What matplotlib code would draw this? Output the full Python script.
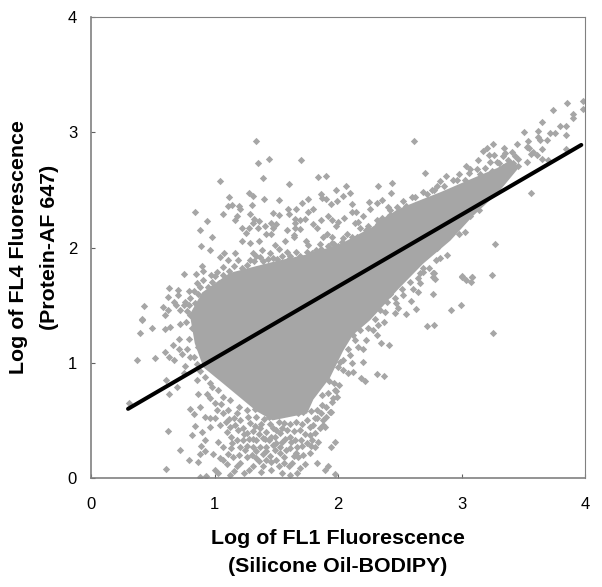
import matplotlib
matplotlib.use('Agg')
import matplotlib.pyplot as plt

# points (log FL1, log FL4)
upper_pts = [(1.34,2.92),(1.355,2.73),(1.44,2.77),(1.70,2.76),(1.39,2.60),(1.045,2.58),(1.60,2.55),(1.835,2.61),
    (1.90,2.62),(1.98,2.50),(1.28,2.47),(1.31,2.45),(1.12,2.44),(1.40,2.42),(1.30,2.37),(1.525,2.41),(1.71,2.39),
    (1.76,2.42),(1.865,2.46),(1.87,2.43),(1.90,2.42),(1.94,2.38),(1.99,2.40),(.845,2.31),(.94,2.23),(1.07,2.29),
    (1.11,2.36),(1.14,2.37),(1.20,2.36),(1.21,2.33),(1.18,2.27),(1.17,2.24),(1.29,2.29),(1.32,2.25),(1.31,2.21),
    (1.36,2.23),(1.405,2.19),(1.355,2.17),(1.28,2.17),(1.22,2.17),(1.255,2.13),(1.42,2.12),(1.46,2.21),(1.495,2.20),
    (1.47,2.17),(1.46,2.12),(1.47,2.30),(1.525,2.28),(1.595,2.33),(1.60,2.29),(1.66,2.33),(1.65,2.25),(1.65,2.21),
    (1.59,2.15),(1.65,2.17),(1.64,2.11),(1.69,2.24),(1.73,2.25),(1.69,2.16),(1.755,2.31),(1.80,2.33),(1.86,2.24),
    (1.80,2.20),(1.83,2.17),(1.92,2.27),(1.95,2.24),(2.00,2.22),(1.98,2.19),(1.91,2.12),(1.88,2.09),(1.95,2.09),
    (.88,2.15),(.98,2.09),(.89,2.01),(.965,1.98),(1.22,2.06),(1.29,2.04),(1.36,2.06),(1.57,2.06),(1.64,2.09),
    (1.74,2.06),(1.76,2.02),(1.855,2.03),(1.92,2.01),(2.0,2.01),(1.385,1.98),(1.49,2.02),(1.52,1.99),(1.585,1.96),
    (1.61,1.93),(1.75,1.96),(1.08,1.95),(1.045,1.92),(1.17,1.95),(1.11,1.89),(1.315,1.95),(1.29,1.89),(1.37,1.92),
    (1.45,1.95),(1.47,1.91),(1.395,1.88),(1.26,1.85),(1.19,1.89),(1.07,1.83),(.895,1.84),(.91,1.80),(.75,1.77),
    (.85,1.77),(.91,1.72),(.855,1.69),(1.0,1.75),(1.07,1.76),(.98,1.70),(1.04,1.69),(.63,1.65),(.705,1.63),(.79,1.62),
    (.95,1.66),(.705,1.59),(.62,1.57),(.67,1.53),(.80,1.56),(.43,1.49),(.58,1.48),(.625,1.46),(.60,1.41),(.41,1.38),
    (.72,1.46),(.76,1.53),(.80,1.41),(.855,1.46),(.92,1.57),(.96,1.54),(1.0,1.63),(1.34,1.93),(1.43,1.90),(1.55,1.93),
    (1.66,1.96),(1.82,1.98),(1.88,1.95),(1.95,2.04),(.83,1.62),(.87,1.60),(.75,1.50),(.78,1.45),(.69,1.50),
    (1.16,1.84),(1.22,1.82),(1.32,1.88),(1.51,1.90),(1.60,1.90),(1.69,1.93),(1.79,1.95),(1.86,1.99),(1.97,2.03),(2.03,2.05),
    (1.02,1.79),(.97,1.76),(1.12,1.80),(.88,1.66),(.84,1.52),(.79,1.50)]

left_pts = [(.41,1.37),(.40,1.26),(.49,1.30),(.60,1.29),(.64,1.31),(.72,1.34),(.77,1.35),(.71,1.21),(.79,1.21),
    (.66,1.15),(.71,1.12),(.60,1.09),(.63,1.05),(.735,1.08),(.80,1.05),(.87,1.14),(.37,1.02),(.52,1.04),(.67,1.02),
    (.76,.97),(.855,.99),(.75,.91),(.855,.85),(.61,.85),(.635,.73),(.70,.79),(.305,.65),(.87,.73),(.925,.88),(.96,.82),
    (.82,1.30),(.78,1.12),(.83,1.05),(.88,.93),(.98,.79),(1.03,.76)]

plume_pts = [(.94,.73),(.80,.60),(.835,.555),(.88,.62),(.96,.69),(1.0,.65),(1.07,.70),(1.125,.68),(.925,.53),(.965,.52),
    (1.02,.59),(1.07,.56),(.84,.45),(.96,.445),(.62,.41),(.82,.37),(.90,.40),(.925,.33),(.89,.28),(1.045,.46),(1.10,.40),
    (1.03,.315),(1.07,.27),(.72,.24),(.925,.23),(.885,.208),(.985,.21),(.79,.16),(.87,.135),(.61,.08),(.885,.01),(.93,.02),
    (1.0,.07),(1.03,.04),(1.07,.155),(1.11,.21),(1.045,.17),(1.10,.125),(1.15,.185),(1.18,.10),(1.125,.025),(1.235,.04),
    (1.26,.185),(1.25,.24),(1.315,.10),(1.34,.17),(1.42,.155),(1.395,.10),(1.46,.07),(1.545,.04),(1.61,.025),(1.665,.04),
    (1.625,.13),(1.56,.185),(1.68,.185),(1.72,.20),(1.775,.215),(1.895,.07),(1.92,.10),(1.975,.035),(1.83,.13),(1.94,.265),
    (1.975,.315),(1.88,.46),(1.815,.52),(1.935,.575),(1.975,.76),(1.855,.43),(1.775,.37),(1.61,.26),(1.50,.30),(1.42,.40),
    (1.34,.33),(1.26,.39),(1.18,.33),(1.125,.445),(1.21,.50),(1.29,.475),(1.37,.43),(1.18,.56),(1.26,.59),(1.34,.53),
    (1.45,.47),(1.53,.39),(1.61,.36),(1.69,.42),(1.75,.50),(1.68,.56),(1.585,.56),(1.61,.47),(1.815,.39),(1.75,.30),
    (1.665,.27),(1.37,.27),(1.42,.27),(1.49,.24),(1.42,.23),(1.50,.155),(1.315,.27),(1.14,.30),(1.21,.27),(1.16,.52),
    (1.23,.43),(1.31,.41),(1.40,.51),(1.48,.55),(1.56,.48),(1.66,.49),(1.72,.57),(1.78,.58),(1.83,.59),(1.87,.63),
    (1.39,.35),(1.46,.36),(1.55,.31),(1.58,.24),(1.70,.33),(1.73,.12),(1.52,.10),(1.45,.19),(1.38,.05),(1.28,.07),
    (1.21,.13),(1.16,.06),(1.31,.34),(1.23,.33),(1.11,.59),(1.05,.64),(1.00,.52),(1.12,.51),(1.33,.60),(1.41,.60),
    (1.50,.42),(1.64,.41),(1.80,.46),(1.90,.53),(1.95,.66),(1.99,.70),(1.92,.74),(1.47,.29),(1.53,.22),(1.34,.23),
    (1.20,.62),(1.27,.53),(1.38,.47),(1.44,.53),(1.52,.49),(1.59,.42),(1.71,.47),(1.77,.44),(1.86,.56),(1.90,.62),
    (1.26,.28),(1.19,.42),(1.13,.36),(1.36,.15),(1.44,.33),(1.56,.13),(1.64,.19),(1.69,.09),(1.78,.28),(1.84,.31),
    (1.09,.49),(1.17,.46),(1.24,.38),(1.33,.45),(1.41,.34),(1.49,.36),(1.57,.34),(1.65,.33),(1.73,.38),(1.79,.33),
    (1.28,.34),(1.36,.38),(1.47,.43),(1.55,.43),(1.62,.31),(1.71,.28),(1.81,.27),(1.46,.14),(1.39,.21),(1.30,.20),
    (1.20,.20),(1.13,.26),(1.53,.27),(1.60,.10),(1.66,.22)]

right_pts = [(3.98,3.27),(3.857,3.25),(3.98,3.20),(3.905,3.155),(3.905,3.126),(3.738,3.19),(3.65,3.09),(3.506,3.005),
    (3.62,3.01),(3.797,3.05),(3.846,3.05),(3.85,2.98),(3.757,2.996),(3.716,2.99),(3.695,2.93),(3.635,2.93),(3.62,2.96),
    (3.54,2.92),(3.527,2.875),(3.55,2.86),(3.576,2.83),(3.56,2.81),(3.61,2.80),(3.654,2.855),(3.649,2.765),(3.703,2.76),
    (3.527,2.74),(3.85,2.855),(2.618,2.924),(3.258,2.895),(3.452,2.895),(3.204,2.866),(3.171,2.84),(3.22,2.80),(3.263,2.805),
    (3.347,2.86),(3.352,2.817),(3.339,2.79),(3.406,2.83),(3.433,2.79),(3.46,2.77),(3.136,2.76),(3.23,2.74),(3.285,2.745),
    (3.379,2.76),(3.42,2.73),(3.46,2.707),(3.036,2.71),(3.069,2.68),(3.128,2.678),(2.704,2.65),(2.982,2.635),(3.19,2.687),
    (3.244,2.666),(3.339,2.695),(3.392,2.657),(2.874,2.623),(2.826,2.577),(2.934,2.585),(3.028,2.585),(2.799,2.536),
    (2.758,2.50),(2.321,2.536),(2.434,2.556),(2.065,2.53),(2.10,2.47),(2.043,2.45),(2.426,2.47),(2.596,2.44),(2.723,2.46),
    (2.69,2.397),(2.529,2.406),(2.359,2.41),(2.313,2.383),(2.254,2.392),(2.113,2.374),(2.259,2.334),(2.402,2.348),
    (2.42,2.325),(2.475,2.348),(2.11,2.305),(2.143,2.305),(2.205,2.273),(2.051,2.26),(2.353,2.26),(2.313,2.24),(2.407,2.267),
    (2.164,2.224),(2.137,2.21),(2.245,2.19),(2.178,2.166),(2.226,2.15),(2.326,2.204),(2.07,2.12),(2.11,2.09),(2.043,2.08),(2.15,2.09),
    (2.55,2.36),(2.62,2.44),(2.69,2.48),(2.78,2.50),(2.86,2.53),(2.96,2.59),(3.06,2.65),(3.15,2.64),(3.30,2.73),(3.37,2.72),
    (2.35,2.22),(2.42,2.28)]

lower_pts = [(3.563,2.476),(3.271,2.033),(3.247,1.758),(3.082,1.741),(3.007,1.747),(3.028,2.137),(2.982,2.117),(2.947,2.21),
    (3.015,2.24),(3.07,2.27),(3.144,2.325),(2.88,1.935),(2.826,1.91),(2.79,1.89),(2.80,2.0),(2.772,1.78),(2.69,1.82),
    (2.664,1.775),(2.785,1.73),(2.88,2.09),(2.893,2.15),(3.255,1.255),(3.006,1.753),(3.033,1.718),(3.077,1.70),(3.087,1.74),
    (2.77,1.594),(2.996,1.498),(2.915,1.46),(2.718,1.319),(2.78,1.328),(2.631,1.467),(2.55,1.42),(2.588,1.54),(2.461,1.43),
    (2.483,1.472),(2.348,1.169),(2.415,1.154),(2.315,1.24),(2.375,1.357),(2.326,1.328),(2.205,1.116),(2.2,1.01),(2.318,.905),
    (2.372,.885),(2.186,.865),(2.218,.845),(2.124,.923),(2.078,.908),(2.11,.995),(2.016,1.01),(2.043,.937),(1.94,.576),
    (1.962,.69),(1.983,.758),(2.01,.807),(1.967,.82),(1.88,.50),(1.894,.445),(1.827,.518),(2.77,1.747),(2.78,1.776),
    (2.737,1.82),(2.69,1.79),(2.645,1.733),(2.664,1.69),(2.61,1.637),(2.65,1.61),(2.529,1.588),(2.46,1.559),(2.394,1.53),
    (2.34,1.46),(2.23,1.197),(2.164,1.14),(2.137,1.197),(2.178,1.284),(2.245,1.30),(2.286,1.284),(2.097,1.067),(2.043,1.024),
    (1.989,1.082),(2.58,1.70),(2.52,1.64),(2.42,1.60),(2.35,1.52),(2.30,1.38),(2.20,1.36),(2.12,1.24),(2.08,1.12),(2.00,.96),
    (1.93,.84),(1.87,.72),(2.04,1.20),(2.16,1.33),(2.28,1.45),(2.38,1.44),(2.47,1.52)]

# the solid middle of the cloud is thousands of overlapping points, too many to read one by one,
# so its traced outline is filled instead
core_outline = [(.80,1.42),(.90,1.61),(1.125,1.78),(1.51,1.885),(1.75,1.94),(2.02,2.03),(2.28,2.18),(2.48,2.33),(2.64,2.40),
    (2.83,2.48),(3.09,2.60),(3.29,2.69),(3.40,2.76),(3.47,2.70),(3.3,2.48),(3.09,2.27),(2.91,2.06),(2.69,1.86),(2.48,1.63),
    (2.26,1.37),(2.12,1.24),(2.04,1.10),(1.935,.87),(1.80,.68),(1.75,.56),(1.47,.50),(1.34,.58),(1.07,.82),(.91,.96),(.84,1.17)]

fit_x = [.3, 3.97]
fit_y = [.6, 2.89]

grey = '#A6A6A6'
plt.rcParams['font.family'] = ['Liberation Sans', 'DejaVu Sans']

fig = plt.figure(figsize=(6.02, 5.87), dpi=100)
ax = fig.add_axes([91/602, 1 - 478/587, 494/602, 461/587])

ax.fill(*zip(*core_outline), color=grey, lw=0, zorder=1)
for pts in [upper_pts, left_pts, plume_pts, right_pts, lower_pts]:
    ax.scatter(*zip(*pts), s=14, marker='D', color=grey, linewidths=0, zorder=2)
ax.plot(fit_x, fit_y, color='black', lw=2.9, zorder=3, solid_capstyle='round')

ax.set_xlim(0, 4)
ax.set_ylim(0, 4)
ax.set_xticks([0, 1, 2, 3, 4])
ax.set_yticks([0, 1, 2, 3, 4])
ax.tick_params(direction='in', length=3, width=0.8, color='#606060', labelsize=12)
ax.tick_params(axis='x', pad=14)
ax.tick_params(axis='y', pad=10)
for name, spine in ax.spines.items():
    spine.set_color('#808080')
    spine.set_linewidth(1.2 if name in ('left', 'bottom') else 0.8)

ax.set_xlabel('Log of FL1 Fluorescence\n(Silicone Oil-BODIPY)', fontsize=15.4, fontweight='bold', labelpad=12, linespacing=1.6)
ax.set_ylabel('Log of FL4 Fluorescence\n(Protein-AF 647)', fontsize=15.4, fontweight='bold', labelpad=6, linespacing=1.8)

fig.savefig('out.png', dpi=100)
